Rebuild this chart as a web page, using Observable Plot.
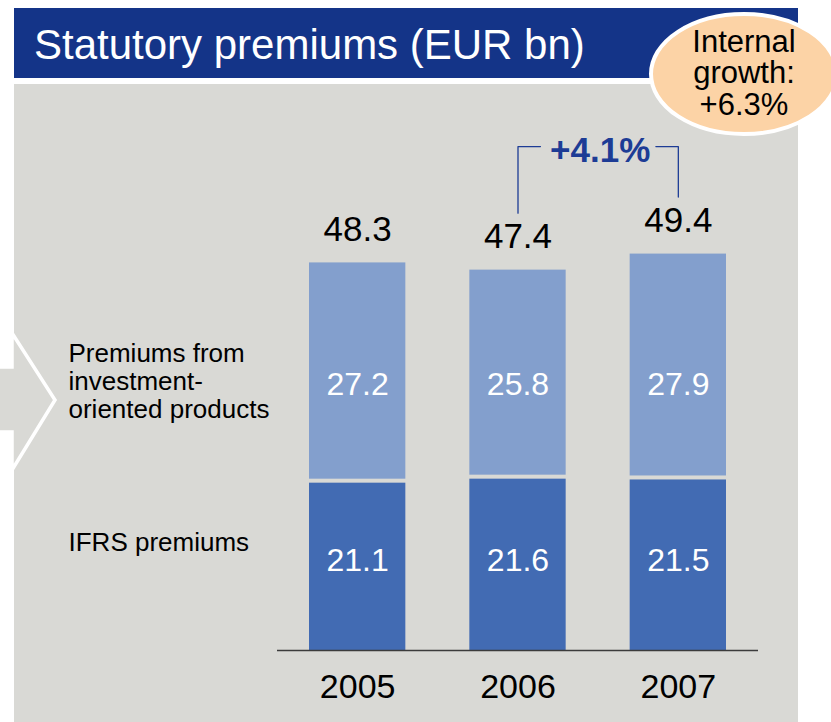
<!DOCTYPE html>
<html>
<head>
<meta charset="utf-8">
<script src="https://cdn.jsdelivr.net/npm/d3@7"></script>
<script src="https://cdn.jsdelivr.net/npm/@observablehq/plot@0.6"></script>
<style>
  html, body { margin: 0; padding: 0; background: #ffffff; overflow: hidden; }
  #chart svg { display: block; }
</style>
</head>
<body>
<div id="chart"></div>
<script>
// ---- data ----
const years = [2005, 2006, 2007];
const ifrsPremiums = [21.1, 21.6, 21.5];
const investmentPremiums = [27.2, 25.8, 27.9];
const totals = [48.3, 47.4, 49.4];
const seriesNames = ["Premiums from\ninvestment-\noriented products", "IFRS premiums"];
const growthPair = [2006, 2007];
const growthLabel = "+4.1%";
const bubbleLines = ["Internal", "growth:", "+6.3%"];
const titleText = "Statutory premiums (EUR bn)";

// ---- styles ----
const FONT = "'Liberation Sans', Arial, Helvetica, sans-serif";
const darkBlue = "#426bb3";
const lightBlue = "#839fcd";
const panelGray = "#d9d9d5";
const navy = "#143488";
const accentBlue = "#1d3c95";
const fmt = d3.format(".1f");

const rows = years.map((year, i) => ({
  year,
  ifrs: ifrsPremiums[i],
  invest: investmentPremiums[i],
  total: totals[i]
}));

// bracket between the two compared years (gap left for the label)
const pairRows = rows.filter(r => growthPair.includes(r.year));
const bracketTop = d3.max(pairRows, r => r.total) + 13.4;
const mid = d3.mean(growthPair);
const gapHalf = 0.36;
const bracket = [
  {seg: "a", x: pairRows[0].year, y: pairRows[0].total + 7.1},
  {seg: "a", x: pairRows[0].year, y: bracketTop},
  {seg: "a", x: mid - gapHalf, y: bracketTop},
  {seg: "b", x: mid + gapHalf, y: bracketTop},
  {seg: "b", x: pairRows[1].year, y: bracketTop},
  {seg: "b", x: pairRows[1].year, y: pairRows[1].total + 7.1}
];

// label rows inside the bars (in value units)
const investLabelRow = 33.1;
const ifrsLabelRow = 11.2;

const chart = Plot.plot({
  width: 831,
  height: 722,
  marginLeft: 277,
  marginRight: 73,
  marginTop: 0,
  marginBottom: 72,
  style: {fontFamily: FONT, background: "transparent", overflow: "visible"},
  x: {domain: [2004.5, 2007.5]},
  y: {domain: [0, 81], axis: null},
  marks: [
    Plot.rectY(rows, {
      x1: d => d.year - 0.5, x2: d => d.year + 0.5,
      y1: 0, y2: "ifrs",
      fill: darkBlue, insetLeft: 32, insetRight: 32, insetTop: 2
    }),
    Plot.rectY(rows, {
      x1: d => d.year - 0.5, x2: d => d.year + 0.5,
      y1: "ifrs", y2: d => d.ifrs + d.invest,
      fill: lightBlue, insetLeft: 32, insetRight: 32, insetBottom: 2
    }),
    Plot.ruleY([0], {stroke: "#3c3c3c", strokeWidth: 1.3}),
    Plot.axisX({
      ticks: years, tickFormat: d3.format("d"), tickSize: 0, tickPadding: 23,
      fontSize: 34, label: null, fill: "#000"
    }),
    // totals
    Plot.text(rows, {
      x: "year", y: "total", text: d => fmt(d.total),
      dy: -33, fontSize: 35, lineAnchor: "middle", fill: "#000"
    }),
    // segment values
    Plot.text(rows, {
      x: "year", y: () => investLabelRow, text: d => fmt(d.invest),
      fontSize: 32, lineAnchor: "middle", fill: "#fff"
    }),
    Plot.text(rows, {
      x: "year", y: () => ifrsLabelRow, text: d => fmt(d.ifrs),
      fontSize: 32, lineAnchor: "middle", fill: "#fff"
    }),
    // growth bracket
    Plot.line(bracket, {x: "x", y: "y", z: "seg", stroke: accentBlue, strokeWidth: 1.3}),
    Plot.text([growthLabel], {
      x: () => mid, y: () => bracketTop, text: d => d,
      fontSize: 35, fontWeight: "bold", fill: accentBlue,
      lineAnchor: "middle", dy: 4, dx: 2
    }),
    // series labels on the left
    Plot.text([seriesNames[0]], {
      frameAnchor: "top-left", dx: -209, dy: 380.7, text: d => d,
      textAnchor: "start", lineAnchor: "middle", lineHeight: 1.06, fontSize: 26, fill: "#000"
    }),
    Plot.text([seriesNames[1]], {
      frameAnchor: "top-left", dx: -209, dy: 541.7, text: d => d,
      textAnchor: "start", lineAnchor: "middle", fontSize: 26, fill: "#000"
    })
  ]
});

document.getElementById("chart").appendChild(chart);

// ---- decorations: panel, arrow, title bar, bubble ----
const svg = d3.select(chart);
const back = svg.insert("g", ":first-child");
back.append("rect")
  .attr("x", 14).attr("y", 84).attr("width", 784).attr("height", 660)
  .attr("fill", panelGray);
back.append("polygon")
  .attr("points", "-6,367 12,367 12,333 55,400 12,470 12,432 -6,432")
  .attr("fill", panelGray).attr("stroke", "#fff").attr("stroke-width", 3.5);

const front = svg.append("g");
front.append("rect")
  .attr("x", 14).attr("y", 8).attr("width", 784).attr("height", 70)
  .attr("fill", navy);
front.append("text")
  .attr("x", 34).attr("y", 58.5)
  .attr("text-anchor", "start")
  .attr("fill", "#fff").attr("font-size", 42).attr("font-family", FONT)
  .text(titleText);
front.append("ellipse")
  .attr("cx", 744).attr("cy", 74).attr("rx", 93).attr("ry", 60)
  .attr("fill", "#fcd3a6").attr("stroke", "#fff").attr("stroke-width", 4);
front.append("text")
  .attr("text-anchor", "middle").attr("font-size", 31).attr("font-family", FONT).attr("fill", "#000")
  .selectAll("tspan").data(bubbleLines).join("tspan")
  .attr("x", 744).attr("y", (d, i) => 51.7 + i * 31.7)
  .text(d => d);
</script>
</body>
</html>
